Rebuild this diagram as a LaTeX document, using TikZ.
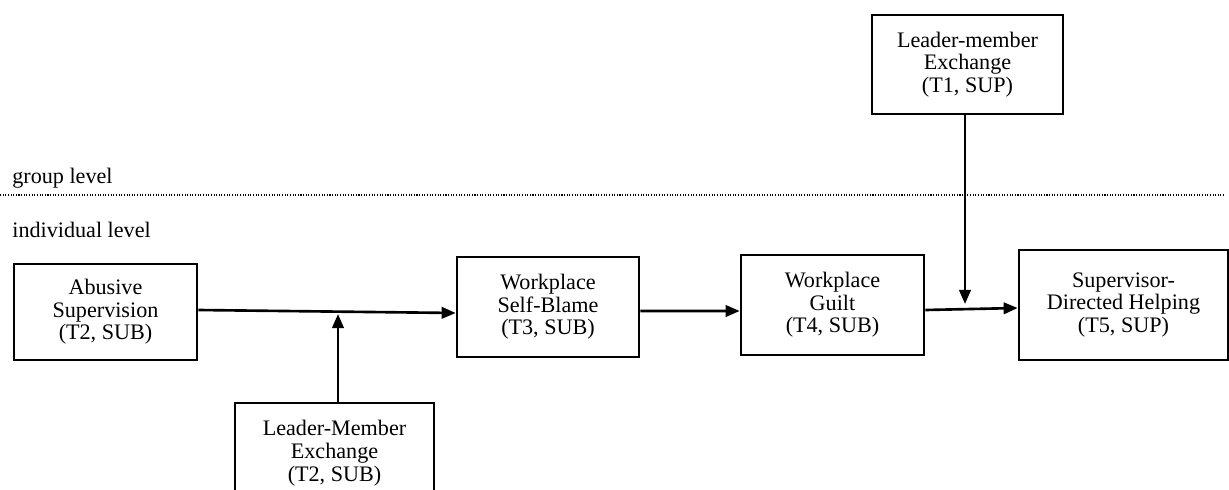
\documentclass[tikz,border=0pt]{standalone}
\usepackage{fontspec}
\setmainfont{Liberation Serif}
\usetikzlibrary{arrows.meta}

\begin{document}
\begin{tikzpicture}[
    box/.style={draw, line width=1.5pt, align=center, inner sep=0pt, font=\fontsize{12.6}{12.9}\selectfont},
    arr/.style={-{Triangle[length=8pt,width=6.5pt]}, line width=1.5pt},
    lvl/.style={right, inner sep=0pt, font=\fontsize{12.6}{13}\selectfont}]
        \useasboundingbox (0,0) rectangle (24.58,-9.78);
        \clip (0,0) rectangle (24.58,-9.78);
        \node[lvl] (grp) at (0.24,-3.56) {group level};
        \node[lvl] (ind) at (0.24,-4.6) {individual level};
        \draw[dash pattern=on 0.6pt off 0.9pt, line width=0.8pt] (0,-3.9) -- (24.5,-3.9);
        \node[box, minimum width=3.66cm, minimum height=1.92cm] (abuse) at (2.11,-6.24) {Abusive\\Supervision\\(T2, SUB)};
        \node[box, minimum width=3.98cm, minimum height=2cm] (lmxsub) at (6.69,-9.06) {Leader-Member\\Exchange\\(T2, SUB)};
        \node[box, minimum width=3.64cm, minimum height=2cm] (blame) at (10.96,-6.14) {Workplace\\Self-Blame\\(T3, SUB)};
        \node[box, minimum width=3.66cm, minimum height=2cm] (guilt) at (16.65,-6.1) {Workplace\\Guilt\\(T4, SUB)};
        \node[box, minimum width=4.18cm, minimum height=2.2cm] (help) at (22.47,-6.1) {Supervisor-\\Directed Helping\\(T5, SUP)};
        \node[box, minimum width=3.82cm, minimum height=1.98cm] (lmxsup) at (19.35,-1.29) {Leader-member\\Exchange\\(T1, SUP)};
        \coordinate (m1) at (6.76,-6.28);
        \coordinate (m2) at (19.3,-6.08);
        \draw[arr] ([yshift=0.04cm]abuse.east) -- ([yshift=-0.12cm]blame.west);
        \draw[arr] (m1 |- lmxsub.north) -- (m1);
        \draw[arr] ([yshift=-0.08cm]blame.east) -- ([yshift=-0.12cm]guilt.west);
        \draw[arr] ([yshift=-0.1cm]guilt.east) -- ([yshift=-0.06cm]help.west);
        \draw[arr] (m2 |- lmxsup.south) -- (m2);
    \end{tikzpicture}
\end{document}
